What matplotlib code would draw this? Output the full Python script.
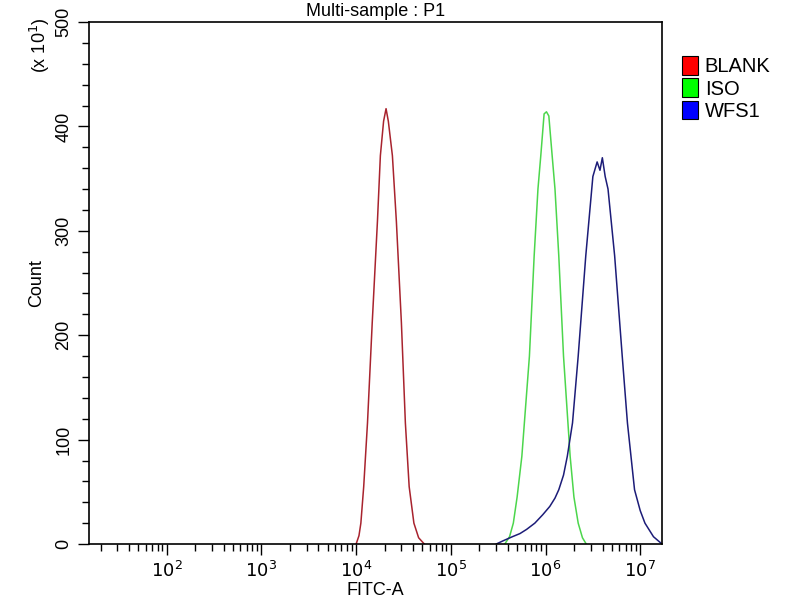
import numpy as np
import matplotlib
matplotlib.use("Agg")
import matplotlib.pyplot as plt
from matplotlib.patches import Patch
from matplotlib.ticker import FixedLocator, NullFormatter

plt.rcParams['font.family'] = ['Liberation Sans', 'DejaVu Sans']

# histogram outlines: log10(FITC-A) and count (x 10^1)
blank_log = [4.00, 4.03, 4.05, 4.08, 4.12, 4.17, 4.225, 4.256, 4.29, 4.316, 4.34, 4.383,
             4.425, 4.478, 4.52, 4.56, 4.61, 4.66, 4.72]
blank_cnt = [0, 8, 20, 55, 116, 212, 309, 372, 405, 417, 405, 372,
             309, 212, 116, 55, 20, 6, 0]

iso_log = [5.57, 5.62, 5.66, 5.70, 5.75, 5.83, 5.88, 5.92, 5.95, 5.985, 6.01, 6.035, 6.07,
           6.10, 6.14, 6.19, 6.26, 6.30, 6.345, 6.39, 6.43]
iso_cnt = [0, 7, 20, 45, 84, 180, 276, 340, 372, 412, 414, 410, 372,
           340, 276, 180, 84, 45, 20, 6, 0]

wfs1_log = [5.48, 5.55, 5.65, 5.73, 5.80, 5.887, 5.97, 6.045, 6.10, 6.14, 6.19, 6.23, 6.285,
            6.345, 6.425, 6.50, 6.545, 6.575, 6.60, 6.63, 6.66, 6.73, 6.81, 6.865, 6.94,
            7.00, 7.05, 7.14, 7.23]
wfs1_cnt = [0, 3, 7, 10, 14, 20, 28, 36, 44, 52, 66, 84, 116,
            180, 276, 352, 366, 358, 370, 352, 340, 276, 180, 116, 52,
            32, 20, 7, 0]

names = ['BLANK', 'ISO', 'WFS1']
line_colors = ['#a8232e', '#4cd64c', '#1c1c78']
legend_colors = ['#ff0000', '#00ff00', '#0000ff']

fig = plt.figure(figsize=(8, 6), dpi=100)
ax = fig.add_axes([0.111, 0.0933, 0.7165, 0.87])

for xs, ys, c in zip([blank_log, iso_log, wfs1_log],
                     [blank_cnt, iso_cnt, wfs1_cnt], line_colors):
    ax.plot(10 ** np.array(xs), ys, color=c, lw=1.1)

ax.set_xscale('log')
ax.set_xlim(10 ** 1.177, 10 ** 7.23)
ax.set_ylim(0, 500)

majors = [1e2, 1e3, 1e4, 1e5, 1e6, 1e7]
ax.xaxis.set_major_locator(FixedLocator(majors))
ax.set_xticklabels([r'$10^{%d}$' % k for k in range(2, 8)])
minors = [m * 10 ** k for k in range(1, 8) for m in range(2, 10)]
ax.xaxis.set_minor_locator(FixedLocator(minors))
ax.xaxis.set_minor_formatter(NullFormatter())

ax.set_yticks([0, 100, 200, 300, 400, 500])
ax.set_yticks(np.arange(0, 501, 20), minor=True)
for lbl in ax.get_yticklabels():
    lbl.set_rotation(90)
    lbl.set_va('center')

ax.tick_params(axis='both', which='major', direction='out', length=8, width=1,
               labelsize=13, colors='black')
ax.tick_params(axis='both', which='minor', direction='out', length=5, width=1)
ax.tick_params(axis='x', pad=4)
ax.tick_params(axis='y', pad=4)

for s in ax.spines.values():
    s.set_linewidth(1.2)

ax.set_xlabel('FITC-A', fontsize=13, labelpad=1)
ax.set_ylabel('Count', fontsize=13, labelpad=7)
ax.set_title('Multi-sample : P1', fontsize=13, pad=4)
fig.text(0.05, 0.925, r'(x 10$^{1}$)', rotation=90, fontsize=13, ha='center', va='center')

handles = [Patch(facecolor=c, edgecolor='black', lw=0.8) for c in legend_colors]
ax.legend(handles, names, loc='upper left', bbox_to_anchor=(1.02, 0.95), frameon=False,
          fontsize=14.5, handlelength=0.8, handleheight=1.05, handletextpad=0.35,
          labelspacing=0.1, borderaxespad=0)

fig.savefig('out.png', dpi=100)
